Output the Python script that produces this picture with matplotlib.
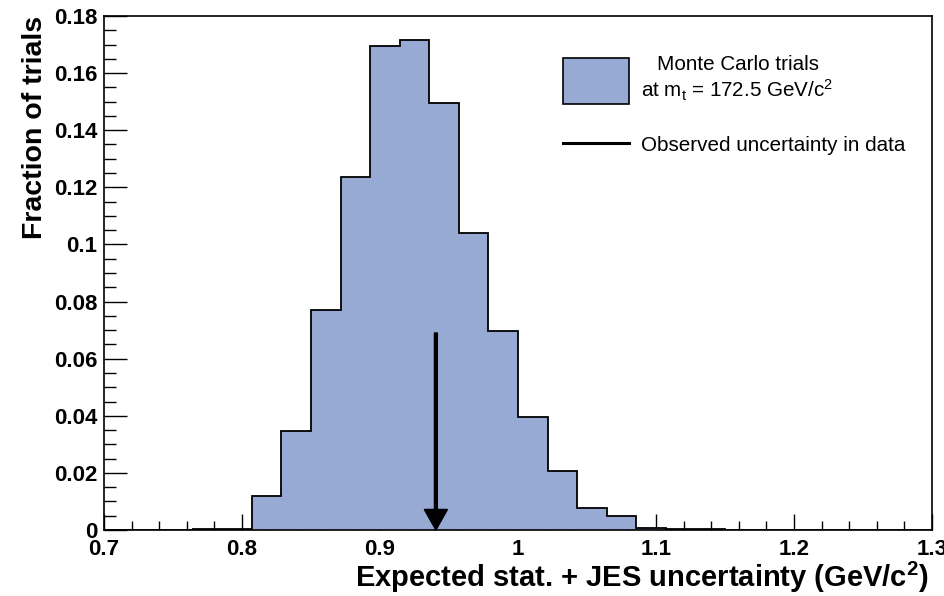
import matplotlib
matplotlib.use('Agg')
import matplotlib.pyplot as plt
import numpy as np
from matplotlib.patches import Patch
from matplotlib.lines import Line2D
from matplotlib.ticker import MultipleLocator, FormatStrFormatter

plt.rcParams['font.family'] = ['Liberation Sans', 'DejaVu Sans']
plt.rcParams['mathtext.fontset'] = 'custom'
plt.rcParams['mathtext.rm'] = 'Liberation Sans'
plt.rcParams['mathtext.it'] = 'Liberation Sans:italic'
plt.rcParams['mathtext.bf'] = 'Liberation Sans:bold'

# histogram: 28 bins between 0.7 and 1.3
x_min, x_max, n_bins = 0.7, 1.3, 28
fractions = [0, 0, 0, 0.0004, 0.0004,
             0.0119, 0.0347, 0.0770, 0.1237, 0.1695, 0.1716, 0.1497,
             0.1040, 0.0696, 0.0397, 0.0208, 0.0076, 0.0048, 0.0008,
             0.0003, 0.0003, 0, 0, 0, 0, 0, 0, 0]
observed = 0.9405        # observed uncertainty in data
arrow_top = 0.069

fill_color = '#96aad4'

edges = np.linspace(x_min, x_max, n_bins + 1)

fig = plt.figure(figsize=(9.44, 5.96), dpi=100)
ax = fig.add_axes([104 / 944, 66 / 596, 828 / 944, 514 / 596])

ax.stairs(fractions, edges, fill=True, color=fill_color, zorder=2)
ax.stairs(fractions, edges, baseline=0, color='black', lw=1.3, zorder=3)

# arrow for the observed value
ax.arrow(observed, arrow_top, 0, -arrow_top, width=0.0021,
         head_width=0.0168, head_length=0.0072, length_includes_head=True,
         color='black', zorder=4)

ax.set_xlim(x_min, x_max)
ax.set_ylim(0, 0.18)

ax.xaxis.set_major_locator(MultipleLocator(0.1))
ax.xaxis.set_minor_locator(MultipleLocator(0.02))
ax.yaxis.set_major_locator(MultipleLocator(0.02))
ax.yaxis.set_minor_locator(MultipleLocator(0.005))
ax.xaxis.set_major_formatter(FormatStrFormatter('%g'))
ax.yaxis.set_major_formatter(FormatStrFormatter('%g'))

ax.tick_params(axis='both', which='both', direction='in', top=False, right=False,
               width=1.0, labelsize=16)
ax.tick_params(axis='y', which='major', length=16.5, pad=5)
ax.tick_params(axis='y', which='minor', length=8.5)
ax.tick_params(axis='x', which='major', length=11.5, pad=6.5)
ax.tick_params(axis='x', which='minor', length=6.5)
for lab in ax.get_xticklabels() + ax.get_yticklabels():
    lab.set_fontweight('bold')

for sp in ax.spines.values():
    sp.set_linewidth(1.2)
    sp.set_zorder(5)

ax.set_xlabel(r'Expected stat. + JES uncertainty (GeV/c$^{\mathbf{2}}$)',
              fontsize=21, fontweight='bold', loc='right')
ax.xaxis.label.set_va('baseline')
ax.xaxis.set_label_coords(0.996, -0.111)
ax.set_ylabel('Fraction of trials', fontsize=20.5, fontweight='bold', loc='top')
ax.yaxis.set_label_coords(-0.068, 1.0)

# legend: two parts so the line entry sits level with its text
leg_kw = dict(frameon=False, fontsize=14.9, handlelength=3.19, handletextpad=0.6,
              borderpad=0, borderaxespad=0)
leg1 = ax.legend([Patch(facecolor=fill_color, edgecolor='black', lw=1.2)],
                 ['Monte Carlo trials\nat m$\\mathrm{_t}$ = 172.5 GeV/c$\\mathrm{^2}$'],
                 loc='upper left', bbox_to_anchor=(0.5543, 0.924),
                 handleheight=3.04, **leg_kw)
leg1.get_texts()[0].set_multialignment('center')
ax.add_artist(leg1)
ax.legend([Line2D([], [], color='black', lw=2.2)], ['Observed uncertainty in data'],
          loc='center left', bbox_to_anchor=(0.5543, 0.749), handleheight=0.7,
          **leg_kw)

fig.savefig('out.png', dpi=100)
